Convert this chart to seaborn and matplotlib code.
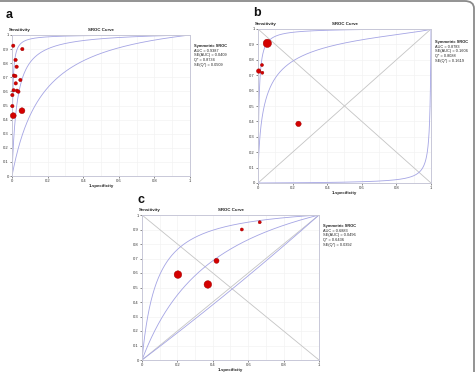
import numpy as np
import pandas as pd
import matplotlib
matplotlib.use("Agg")
import matplotlib.pyplot as plt
from matplotlib.patches import FancyBboxPatch
import seaborn as sns

# ---- data ----
# panel a
a_fpr = [0.007, 0.058, 0.020, 0.026, 0.011, 0.019, 0.047, 0.021, 0.009, 0.028, 0.036, 0.002, 0.002, 0.007, 0.056]
a_tpr = [0.924, 0.900, 0.823, 0.775, 0.712, 0.709, 0.681, 0.657, 0.608, 0.605, 0.598, 0.574, 0.496, 0.428, 0.463]
a_wt = [1, 1, 1, 1, 1, 1, 1, 1, 1, 1, 1, 1, 1, 2, 2]
a_stats = ["Symmetric SROC", "AUC = 0.9387", "SE(AUC) = 0.0409", "Q* = 0.8734", "SE(Q*) = 0.0509"]
# SROC intercepts (logit scale): curve, upper, lower
a_curves = [3.6, 5.7, 1.9]

# panel b
b_fpr = [0.054, 0.023, 0.004, 0.025, 0.234]
b_tpr = [0.907, 0.766, 0.727, 0.716, 0.384]
b_wt = [4, 1, 1.5, 1, 2]
b_stats = ["Symmetric SROC", "AUC = 0.8783", "SE(AUC) = 0.1606", "Q* = 0.8088", "SE(Q*) = 0.1619"]
b_curves = [5.2, -5.2]

# panel c
c_fpr = [0.665, 0.564, 0.421, 0.203, 0.372]
c_tpr = [0.950, 0.900, 0.684, 0.589, 0.521]
c_wt = [1, 1, 2, 4, 4]
c_stats = ["Symmetric SROC", "AUC = 0.6883", "SE(AUC) = 0.0496", "Q* = 0.6436", "SE(Q*) = 0.0392"]
c_curves = [1.18, 2.55, -0.08]

sns.set_style("white")
plt.rcParams["font.family"] = ["Liberation Sans", "DejaVu Sans"]

fig = plt.figure(figsize=(4.77, 3.72), dpi=100)

frame_col = "#c8c8d8"
curve_col = "#a4a4e4"
diag_col = "#c4c4c4"
red = "#d40000"


def sroc(a, slope=1.0):
    x = np.linspace(1e-5, 1 - 1e-5, 2000)
    lx = np.log(x / (1 - x))
    ly = a + slope * lx
    return x, 1 / (1 + np.exp(-ly))


def panel(rect, fpr, tpr, wt, curves, stats, stats_xy, letter, letter_xy,
          diag=False, size_rng=(5, 30)):
    ax = fig.add_axes(rect)
    ax.set_xlim(0, 1)
    ax.set_ylim(0, 1)
    for v in np.arange(0.1, 1.0, 0.1):
        ax.axhline(v, color="#f3f3f3", lw=0.5, zorder=0)
        ax.axvline(v, color="#f3f3f3", lw=0.5, zorder=0)
    if diag:
        ax.plot([0, 1], [0, 1], color=diag_col, lw=0.6, zorder=1)
        ax.plot([0, 1], [1, 0], color=diag_col, lw=0.6, zorder=1)
    for a in curves:
        x, y = sroc(a)
        sns.lineplot(x=x, y=y, ax=ax, color=curve_col, lw=0.6, sort=False, zorder=2)
    df = pd.DataFrame({"fpr": fpr, "tpr": tpr, "w": wt})
    sns.scatterplot(data=df, x="fpr", y="tpr", size="w", sizes=size_rng, ax=ax,
                    color=red, edgecolor="#990000", linewidth=0.3, legend=False,
                    zorder=3, clip_on=False)
    for s in ax.spines.values():
        s.set_color(frame_col)
        s.set_linewidth(0.7)
    ax.set_xticks(np.arange(0, 1.01, 0.2))
    ax.set_xticklabels(["0", "0.2", "0.4", "0.6", "0.8", "1"])
    ax.set_yticks(np.arange(0, 1.01, 0.1))
    ax.set_yticklabels(["0"] + [f"{v:.1f}" for v in np.arange(0.1, 0.95, 0.1)] + ["1"])
    ax.tick_params(labelsize=3.0, length=1.2, width=0.4, pad=1.2, colors="#333333",
                   bottom=True, left=True)
    ax.set_xlabel("1-specificity", fontsize=3.2, labelpad=0.6, fontweight="bold")
    ax.set_ylabel("")
    ax.text(-0.02, 1.02, "Sensitivity", transform=ax.transAxes, fontsize=3.2,
            fontweight="bold", ha="left", va="bottom", color="#222222")
    ax.text(0.5, 1.02, "SROC Curve", transform=ax.transAxes, fontsize=3.2,
            fontweight="bold", ha="center", va="bottom", color="#222222")
    fig.text(stats_xy[0] / 477, 1 - stats_xy[1] / 372, stats[0], fontsize=2.9,
             fontweight="bold", ha="left", va="top", color="#222222")
    fig.text(stats_xy[0] / 477, 1 - (stats_xy[1] + 4.8) / 372, "\n".join(stats[1:]),
             fontsize=2.8, ha="left", va="top", linespacing=1.2, color="#222222")
    fig.text(letter_xy[0] / 477, 1 - letter_xy[1] / 372, letter, fontsize=9,
             fontweight="bold", ha="left", va="center", color="#111111")
    return ax


panel([12 / 477, 1 - 176 / 372, 178 / 477, 141 / 372], a_fpr, a_tpr, a_wt,
      a_curves, a_stats, (194, 44), "a", (6, 15), size_rng=(6, 18))
axb = panel([258 / 477, 1 - 183 / 372, 173 / 477, 154 / 372], b_fpr, b_tpr, b_wt,
            b_curves, b_stats, (435, 40), "b", (253, 13), diag=True,
            size_rng=(5, 36))
# panel b summary curve has a non-unit slope
x, y = sroc(2.3, 0.7)
sns.lineplot(x=x, y=y, ax=axb, color=curve_col, lw=0.6, sort=False, zorder=2)

panel([142 / 477, 1 - 360 / 372, 177 / 477, 145 / 372], c_fpr, c_tpr, c_wt,
      c_curves, c_stats, (323, 224), "c", (137, 200), diag=True, size_rng=(5, 30))

# outer rounded frame of the original figure
frame = FancyBboxPatch((-20 / 477, -20 / 372), 494 / 477, 391 / 372,
                       boxstyle="round,pad=0,rounding_size=0.02",
                       transform=fig.transFigure, fill=False,
                       edgecolor="#8a8a8a", lw=1.3)
fig.patches.append(frame)

fig.savefig("out.png", dpi=100)
